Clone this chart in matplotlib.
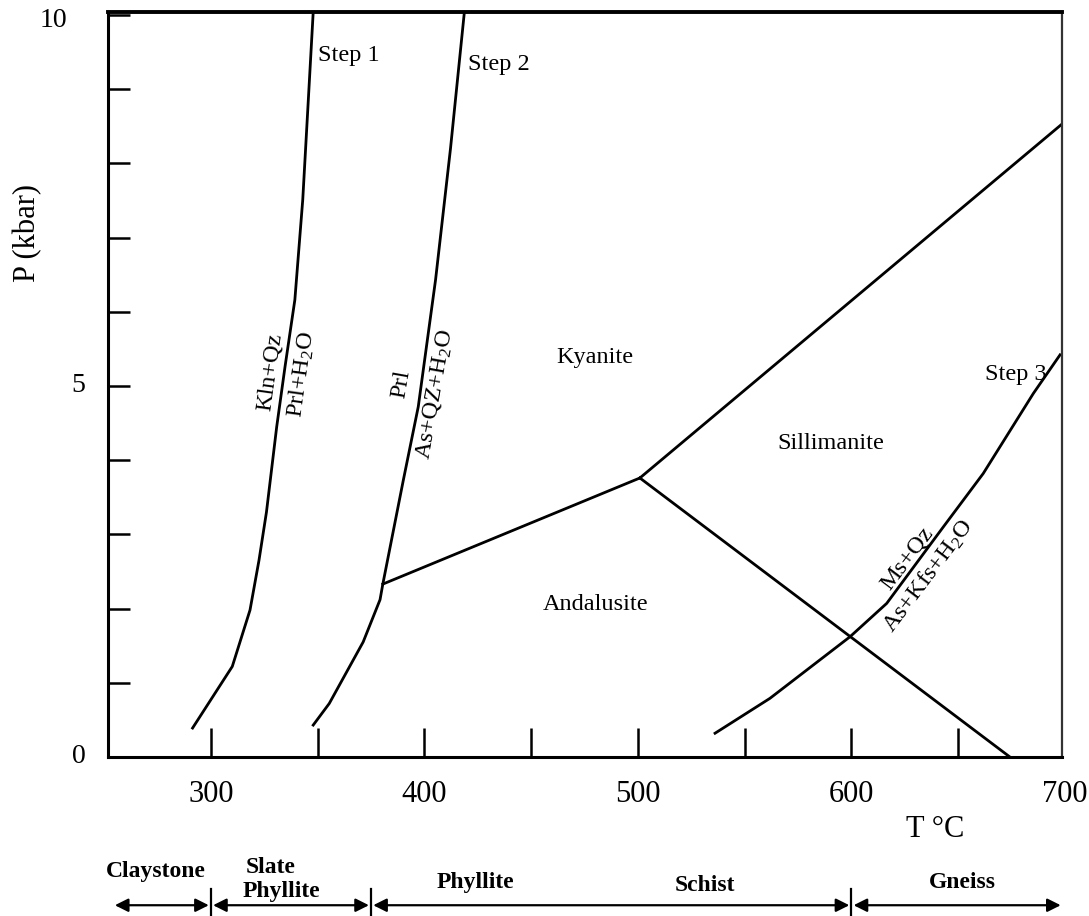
import matplotlib.pyplot as plt

plt.rcParams['font.family'] = ['Liberation Serif', 'DejaVu Serif']
plt.rcParams['mathtext.fontset'] = 'custom'
plt.rcParams['mathtext.rm'] = 'Liberation Serif'
plt.rcParams['mathtext.it'] = 'Liberation Serif'

# reaction curves (T in degC, P in kbar)
step1_T = [291.4, 310.0, 318.3, 322.5, 326.0, 330.8, 334.7, 339.3, 343.0, 345.5, 347.9]
step1_P = [0.39, 1.22, 1.98, 2.65, 3.30, 4.45, 5.26, 6.16, 7.51, 8.80, 10.04]

step2_T = [347.9, 355.4, 371.3, 379.2, 380.5, 390.1, 397.1, 405.2, 412.2, 418.7]
step2_P = [0.43, 0.72, 1.55, 2.12, 2.33, 3.73, 4.72, 6.43, 8.20, 10.04]

step3_T = [536.1, 561.8, 599.3, 616.5, 643.0, 661.7, 685.2, 697.7]
step3_P = [0.32, 0.79, 1.62, 2.07, 3.10, 3.82, 4.90, 5.42]

# Al2SiO5 polymorph boundaries
ky_and_T = [380.5, 500.9]
ky_and_P = [2.33, 3.76]
ky_sil_T = [500.9, 698.6]
ky_sil_P = [3.76, 8.53]
and_sil_T = [500.9, 674.2]
and_sil_P = [3.76, 0.0]

# axes ticks
x_ticks = [300, 350, 400, 450, 500, 550, 600, 650]
x_labels = [300, 400, 500, 600, 700]
y_ticks = [1, 2, 3, 4, 5, 6, 7, 8, 9, 10]
y_labels = [0, 5, 10]

# metamorphic zones along T
zone_edges = [255, 300, 375, 600, 698]
zone_bars = [300, 375, 600]

fig = plt.figure(figsize=(10.89, 9.16), dpi=100)
ax = fig.add_axes([0.0992, 0.1736, 0.8760, 0.8133])

lw = 2.0
ax.plot(step1_T, step1_P, color='black', lw=lw)
ax.plot(step2_T, step2_P, color='black', lw=lw)
ax.plot(step3_T, step3_P, color='black', lw=lw)
ax.plot(ky_and_T, ky_and_P, color='black', lw=lw)
ax.plot(ky_sil_T, ky_sil_P, color='black', lw=lw)
ax.plot(and_sil_T, and_sil_P, color='black', lw=lw)

ax.set_xlim(251.8, 698.6)
ax.set_ylim(0, 10.04)

# spines
for s in ['left', 'bottom']:
    ax.spines[s].set_linewidth(2.2)
ax.spines['top'].set_linewidth(2.8)
ax.spines['right'].set_linewidth(1.6)
ax.spines['right'].set_color('#333333')

ax.set_xticks(x_ticks)
ax.set_yticks(y_ticks)
ax.set_xticklabels([])
ax.set_yticklabels([])
ax.tick_params(axis='x', direction='in', length=21, width=1.8)
ax.tick_params(axis='y', direction='in', length=16, width=1.8)

# tick labels
xt = ax.get_xaxis_transform()
yt = ax.get_yaxis_transform()
for v in x_labels:
    ax.text(v, -0.05, str(v), transform=xt, ha='center', va='center',
            fontsize=22, clip_on=False)
for v in y_labels:
    xx = -0.057 if v == 10 else -0.031
    yy = v - 0.07 if v == 10 else v
    ax.text(xx, yy, str(v), transform=yt, ha='center', va='center',
            fontsize=20, clip_on=False)

ax.text(-0.084, 0.703, 'P (kbar)', transform=ax.transAxes, rotation=90,
        ha='center', va='center', fontsize=22)
ax.text(639, -0.098, 'T °C', transform=xt, ha='center', va='center', fontsize=22)

# field labels
fs = 17.5
ax.text(350.1, 9.46, 'Step 1', ha='left', va='center', fontsize=fs)
ax.text(420.4, 9.33, 'Step 2', ha='left', va='center', fontsize=fs)
ax.text(662.5, 5.15, 'Step 3', ha='left', va='center', fontsize=fs)
ax.text(479.9, 5.38, 'Kyanite', ha='center', va='center', fontsize=fs)
ax.text(590.2, 4.23, 'Sillimanite', ha='center', va='center', fontsize=fs)
ax.text(480.3, 2.06, 'Andalusite', ha='center', va='center', fontsize=fs)

ax.text(327.6, 5.19, 'Kln+Qz', rotation=82, rotation_mode='anchor',
        ha='center', va='center', fontsize=fs)
ax.text(342.2, 5.16, r'Prl+H$_\mathrm{2}$O', rotation=82, rotation_mode='anchor',
        ha='center', va='center', fontsize=fs)
ax.text(389.0, 5.03, 'Prl', rotation=80, rotation_mode='anchor',
        ha='center', va='center', fontsize=fs)
ax.text(404.9, 4.89, r'As+QZ+H$_\mathrm{2}$O', rotation=80, rotation_mode='anchor',
        ha='center', va='center', fontsize=fs)
ax.text(626.0, 2.67, 'Ms+Qz', rotation=53, rotation_mode='anchor',
        ha='center', va='center', fontsize=fs)
ax.text(635.8, 2.44, r'As+Kfs+H$_\mathrm{2}$O', rotation=53, rotation_mode='anchor',
        ha='center', va='center', fontsize=fs)

# metamorphic zones below the axis
arrow_y = -0.199
for a, b in zip(zone_edges[:-1], zone_edges[1:]):
    a2 = a + 1.0 if a in zone_bars else a
    b2 = b - 1.0 if b in zone_bars else b
    ax.annotate('', xy=(b2, arrow_y), xytext=(a2, arrow_y), xycoords=xt,
                textcoords=xt, annotation_clip=False,
                arrowprops=dict(arrowstyle='<|-|>', color='black', lw=1.6,
                                mutation_scale=20, shrinkA=0, shrinkB=0))
for b in zone_bars:
    ax.plot([b, b], [-0.177, -0.215], transform=xt, color='black', lw=1.6,
            clip_on=False)

rock_fs = 17
ax.text(274.2, -0.154, 'Claystone', transform=xt, ha='center', va='center',
        fontsize=rock_fs, fontweight='bold')
ax.text(328.1, -0.148, 'Slate', transform=xt, ha='center', va='center',
        fontsize=rock_fs, fontweight='bold')
ax.text(332.8, -0.181, 'Phyllite', transform=xt, ha='center', va='center',
        fontsize=rock_fs, fontweight='bold')
ax.text(423.7, -0.169, 'Phyllite', transform=xt, ha='center', va='center',
        fontsize=rock_fs, fontweight='bold')
ax.text(531.4, -0.172, 'Schist', transform=xt, ha='center', va='center',
        fontsize=rock_fs, fontweight='bold')
ax.text(651.8, -0.169, 'Gneiss', transform=xt, ha='center', va='center',
        fontsize=rock_fs, fontweight='bold')

fig.savefig('out.png', dpi=100, facecolor='white')
